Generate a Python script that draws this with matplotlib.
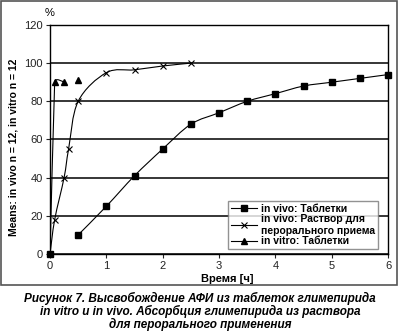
import numpy as np
import matplotlib.pyplot as plt
from matplotlib.path import Path
from matplotlib.patches import PathPatch, Rectangle
from matplotlib.lines import Line2D

plt.rcParams['font.family'] = ['Liberation Sans', 'DejaVu Sans']

# time, h
t_tab = [0, 0.5, 1, 1.5, 2, 2.5, 3, 3.5, 4, 4.5, 5, 5.5, 6]
vivo_tab = [0, 10, 25, 41, 55, 68, 74, 80, 84, 88, 90, 92, 94]
# in vivo tablets: no line between 0 and 0.5 h
tab_line_from = 1

t_sol = [0, 0.083, 0.25, 0.33, 0.5, 1, 1.5, 2, 2.5]
vivo_sol = [0, 18, 40, 55, 80, 95, 96.5, 98.5, 100]

t_vitro = [0, 0.083, 0.25, 0.5]
vitro_tab = [0, 90, 90, 91]
# in vitro: last point stands alone
vitro_line_to = 3

labels = ['in vivo: Таблетки',
          'in vivo: Раствор для\nперорального приема',
          'in vitro: Таблетки']


def smooth_path(x, y, k=1 / 6):
    # cubic bezier through the points (catmull-rom style)
    p = np.column_stack([x, y]).astype(float)
    n = len(p)
    verts = [p[0]]
    codes = [Path.MOVETO]
    for i in range(n - 1):
        p0 = p[i - 1] if i > 0 else p[i]
        p3 = p[i + 2] if i + 2 < n else p[i + 1]
        c1 = p[i] + (p[i + 1] - p0) * k
        c2 = p[i + 1] - (p3 - p[i]) * k
        verts += [c1, c2, p[i + 1]]
        codes += [Path.CURVE4] * 3
    return Path(verts, codes)


fig = plt.figure(figsize=(4, 3.31), dpi=100)
ax = fig.add_axes([0.125, 0.2326, 0.845, 0.692])

lw = 0.8
ax.add_patch(PathPatch(smooth_path(t_tab[tab_line_from:], vivo_tab[tab_line_from:]),
                       fill=False, lw=lw, color='black'))
ax.add_patch(PathPatch(smooth_path(t_sol, vivo_sol), fill=False, lw=lw, color='black'))
ax.add_patch(PathPatch(smooth_path(t_vitro[:vitro_line_to], vitro_tab[:vitro_line_to], k=1 / 30),
                       fill=False, lw=lw, color='black'))

ax.plot(t_tab, vivo_tab, ls='none', marker='s', ms=5, color='black', clip_on=False, zorder=5)
ax.plot(t_sol, vivo_sol, ls='none', marker='x', ms=4.5, mew=0.8, color='black', zorder=5)
ax.plot(t_vitro, vitro_tab, ls='none', marker='^', ms=4.5, color='black', zorder=5)

ax.set_xlim(0, 6)
ax.set_ylim(0, 120)
ax.set_xticks(range(0, 7))
ax.set_yticks(range(0, 121, 20))
ax.yaxis.grid(True, color='black', lw=1.1)
ax.set_axisbelow(True)
for s in ax.spines.values():
    s.set_linewidth(1.0)
ax.tick_params(labelsize=8, length=3, width=0.8, direction='out', pad=2, colors='#222222')

handles = [
    Line2D([], [], color='black', lw=lw, marker='s', ms=5),
    Line2D([], [], color='black', lw=lw, marker='x', ms=4.5, mew=0.8),
    Line2D([], [], color='black', lw=lw, marker='^', ms=4.5),
]
leg = ax.legend(handles, labels, loc='lower right', bbox_to_anchor=(0.97, 0.02),
                prop={'weight': 'bold', 'size': 7.5}, frameon=True, fancybox=False,
                handlelength=2.5, handletextpad=0.3, labelspacing=0.05,
                borderpad=0.3, borderaxespad=0)
leg.get_frame().set_edgecolor('#777777')
leg.get_frame().set_linewidth(1.0)

fig.text(0.033, 0.554, 'Means: in vivo n = 12, in vitro n = 12', rotation=90,
         ha='center', va='center', fontsize=7.5, fontweight='bold')
fig.text(0.125, 0.96, '%', ha='center', va='center', fontsize=8)
fig.text(0.567, 0.157, 'Время [ч]', ha='center', va='center', fontsize=8, fontweight='bold')

fig.patches.append(Rectangle((0.002, 0.139), 0.991, 0.858, transform=fig.transFigure,
                             fill=False, edgecolor='#555555', lw=1.2))

fig.text(0.5, 0.058,
         'Рисунок 7. Высвобождение АФИ из таблеток глимепирида\n'
         'in vitro и in vivo. Абсорбция глимепирида из раствора\n'
         'для перорального применения',
         ha='center', va='center', fontsize=8.5, fontweight='bold', style='italic',
         linespacing=1.0)

fig.savefig('out.png', dpi=100)
